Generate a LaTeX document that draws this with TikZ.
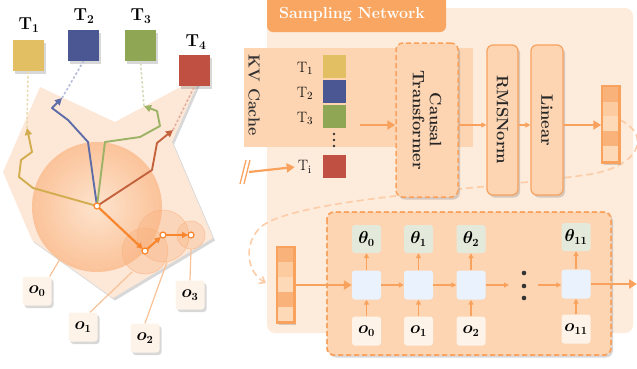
\documentclass[tikz,border=0pt]{standalone}
\usepackage{bm}
\usetikzlibrary{arrows.meta,shadows,calc}
\definecolor{bgc}{HTML}{FDEBDC}
\definecolor{midc}{HTML}{FDD5B3}
\definecolor{orc}{HTML}{F9A25E}
\definecolor{hdc}{HTML}{F8A661}
\definecolor{polyc}{HTML}{FDE8D8}
\definecolor{Ta}{HTML}{E3BF63}
\definecolor{Tb}{HTML}{4B5792}
\definecolor{Tc}{HTML}{8FA655}
\definecolor{Td}{HTML}{C05142}
\definecolor{pa}{HTML}{D2AD4F}
\definecolor{pb}{HTML}{5E6CA8}
\definecolor{pc}{HTML}{9CB264}
\definecolor{pd}{HTML}{C4623E}
\definecolor{arc}{HTML}{F7862E}
\definecolor{cellc}{HTML}{EAF2FD}
\definecolor{thc}{HTML}{E3EADB}
\definecolor{oc}{HTML}{FEF3E8}
\definecolor{linec}{HTML}{F8C196}
\definecolor{sa}{HTML}{F9B27A}
\definecolor{sb}{HTML}{FCCBA0}
\definecolor{sc}{HTML}{FDD9B8}
\definecolor{inC}{HTML}{FDE2CB}
\definecolor{outC}{HTML}{FBC39A}
\definecolor{smc}{HTML}{F9B07C}
\begin{document}
\begin{tikzpicture}[x=1pt,y=-1pt,
  shad/.style={drop shadow={shadow xshift=2pt,shadow yshift=-2.5pt,opacity=0.22,fill=black!70}},
  tbox/.style={minimum width=31pt,minimum height=31pt,inner sep=0pt,shad},
  tlab/.style={font=\fontsize{17}{17}\selectfont},
  obox/.style={rounded corners=3pt,fill=oc,minimum width=29pt,minimum height=29pt,inner sep=0pt,shad,font=\fontsize{16}{16}\selectfont},
  pt/.style={circle,fill=white,draw=arc,line width=1.2pt,inner sep=0pt,minimum size=6pt},
  cpath/.style={line width=1.9pt,line join=round,-{Triangle[length=7pt,width=7pt]}},
  dlink/.style={line width=1.6pt,dash pattern=on 2.5pt off 2pt},
  olink/.style={linec,line width=1.2pt},
  oarr/.style={arc,line width=2.2pt,-{Triangle[length=6pt,width=6pt]}},
  barr/.style={orc,line width=2.2pt,-{Triangle[length=8pt,width=9pt]}},
  sarr/.style={orc,line width=1.4pt,-{Triangle[length=5pt,width=5pt]}},
  rbox/.style={draw=orc,line width=1.2pt,fill=midc,rounded corners=6pt,shad},
  dbox/.style={draw=orc,line width=1.5pt,dash pattern=on 5pt off 3pt,fill=midc,rounded corners=7pt,shad},
  cell/.style={fill=cellc,rounded corners=3pt,minimum width=29pt,minimum height=29pt,inner sep=0pt},
  thbox/.style={fill=thc,rounded corners=3pt,minimum width=29pt,minimum height=28pt,inner sep=0pt,font=\fontsize{16}{16}\selectfont},
  ibox/.style={fill=oc,rounded corners=3pt,minimum width=29pt,minimum height=29pt,inner sep=0pt,font=\fontsize{16}{16}\selectfont},
  rtxt/.style={rotate=-90,font=\bfseries\fontsize{16.5}{17}\selectfont,text=black!85},
  kvt/.style={font=\fontsize{15}{15}\selectfont}
]
\useasboundingbox (0,0) rectangle (637,368);
\clip (0,0) rectangle (637,368);

% ================= LEFT =================
\fill[polyc,shad] (40,87) -- (115,122) -- (201,76) -- (172,142) -- (213,238) -- (113,298) -- (32,240) -- (3,172) -- cycle;
\foreach \i in {0,...,20}{
  \pgfmathsetmacro{\rr}{65-3*\i}
  \pgfmathsetmacro{\pp}{100-5*\i}
  \fill[outC!\pp!inC] (97,207) circle[radius=\rr pt];
}
\filldraw[fill=smc,draw=smc,fill opacity=0.35,draw opacity=0.6,line width=0.6pt] (145,251) circle[radius=23pt];
\filldraw[fill=smc,draw=smc,fill opacity=0.32,draw opacity=0.6,line width=0.6pt] (163,236) circle[radius=26pt];
\filldraw[fill=smc,draw=smc,fill opacity=0.32,draw opacity=0.6,line width=0.6pt] (191,235) circle[radius=14pt];

\coordinate (c0) at (97,206);
\coordinate (c1) at (145,251);
\coordinate (c2) at (163,235);
\coordinate (c3) at (191,235);

% T boxes
\node[tbox,fill=Ta] (T1) at (28,55.5) {};
\node[tbox,fill=Tb] (T2) at (83.5,45.5) {};
\node[tbox,fill=Tc] (T3) at (140.5,45.5) {};
\node[tbox,fill=Td] (T4) at (194.5,70.5) {};
\node[tlab] (T1l) at (29,25) {$\mathbf{T}_{\mathbf{1}}$};
\node[tlab] (T2l) at (84,16) {$\mathbf{T}_{\mathbf{2}}$};
\node[tlab] (T3l) at (141,16) {$\mathbf{T}_{\mathbf{3}}$};
\node[tlab] (T4l) at (196,42) {$\mathbf{T}_{\mathbf{4}}$};

% tips
\coordinate (ta) at (27,128);
\coordinate (tb) at (62,98);
\coordinate (tc) at (144,106);
\coordinate (td) at (173,130);

\draw[dlink,pa!45] (ta) -- (T1.south);
\draw[dlink,pb!45] (tb) -- (T2.south);
\draw[dlink,pc!45] (tc) -- (T3.south);
\draw[dlink,pd!50] (td) -- (T4.south);

\draw[cpath,pa] (c0) -- (33,188) -- (19,177) -- (21,160) -- (32,152) -- (ta);
\draw[cpath,pb] (c0) -- (88,142) -- (68,120) -- (52,108) -- (tb);
\draw[cpath,pc] (c0) -- (105,142) -- (140,137) -- (160,126) -- (157,111) -- (tc);
\draw[cpath,pd] (c0) -- (152,170) -- (157,143) -- (td);

\draw[oarr,shorten >=3pt] (c0) -- (c1);
\draw[oarr,shorten >=3pt,shorten <=2pt] (c1) -- (c2);
\draw[oarr,shorten >=3pt,shorten <=2pt] (c2) -- (c3);

\node[pt] (p0) at (c0) {};
\node[pt] (p1) at (c1) {};
\node[pt] (p2) at (c2) {};
\node[pt] (p3) at (c3) {};

% o boxes
\node[obox] (o0) at (37,291) {$\bm{o_0}$};
\node[obox] (o1) at (83,327) {$\bm{o_1}$};
\node[obox] (o2) at (145,338) {$\bm{o_2}$};
\node[obox] (o3) at (190,295) {$\bm{o_3}$};
\coordinate (e0) at (60,259);
\coordinate (e1) at (132,272);
\coordinate (e2) at (167,262);
\coordinate (e3) at (191,249);
\draw[olink] ($(o0.north east)+(-2,0)$) -- (e0);
\draw[olink] ($(o1.north)+(7,0)$) -- (e1);
\draw[olink] (o2.north) -- (e2);
\draw[olink] (o3.north) -- (e3);

% ================= RIGHT =================
\fill[bgc,rounded corners=8pt] (267,8) rectangle (633,333);
\fill[hdc,rounded corners=6pt] (267,-8) rectangle (446,32);
\node[font=\bfseries\fontsize{16}{16}\selectfont,text=white] (hdr) at (352,15) {Sampling Network};

% KV band
\fill[midc] (244,48) rectangle (473,147);
\node[rotate=-90,font=\bfseries\fontsize{16}{16}\selectfont,text=black!80] (kv) at (254,95) {KV Cache};

\node[kvt] (k1) at (305,68) {T$_1$};
\node[kvt] (k2) at (305,93) {T$_2$};
\node[kvt] (k3) at (305,118) {T$_3$};
\node[kvt] (ki) at (305,167) {T$_\mathrm{i}$};
\fill[black!80] (334,134) circle[radius=1.3pt] (334,140) circle[radius=1.3pt] (334,146) circle[radius=1.3pt];
\fill[Ta] (323,55) rectangle (346,78);
\fill[Tb] (323,80) rectangle (346,103);
\fill[Tc] (323,105) rectangle (346,128);
\fill[Td] (323,155) rectangle (346,178);

% dashed loop curve (behind boxes)
\draw[orc!55,line width=1.6pt,dash pattern=on 7pt off 4pt,-{Straight Barb[length=5pt,width=8pt]}]
  (620,120) .. controls (652,135) and (640,168) .. (585,175)
  .. controls (480,190) and (300,198) .. (262,226)
  .. controls (243,242) and (246,272) .. (266,283);

% input arrows
\coordinate (brk) at (249,172);
\draw[barr] (brk) -- (ki.west);
\draw[orc,line width=1.3pt] (240,184) -- (246,160);
\draw[orc,line width=1.3pt] (244,184) -- (250,160);

\node[dbox,minimum width=62pt,minimum height=154pt] (ct) at (427,120) {};
\node[rtxt,align=center] (ctt) at (ct) {Causal\\Transformer};
\node[rbox,minimum width=31pt,minimum height=150pt] (rms) at (502.5,120) {};
\node[rtxt] (rmst) at (rms) {RMSNorm};
\node[rbox,minimum width=32pt,minimum height=150pt] (lin) at (547,120) {};
\node[rtxt] (lint) at (lin) {Linear};

\coordinate (kvin) at (360,125);
\draw[barr] (kvin) -- (kvin -| ct.west);
\draw[sarr,line width=2pt] (ct.east |- kvin) -- (rms.west |- kvin);
\draw[sarr,line width=2pt] (rms.east |- kvin) -- (lin.west |- kvin);

% output vector
\node[draw=orc,line width=1.5pt,minimum width=17pt,minimum height=76pt,inner sep=0pt,shad,fill=sc] (vec) at (610.5,124) {};
\fill[sa] (603,87) rectangle (618,101.5);
\fill[sb] (603,101.5) rectangle (618,116);
\fill[sc] (603,116) rectangle (618,131);
\fill[sa] (603,131) rectangle (618,146);
\fill[sc] (603,146) rectangle (618,161);
\draw[orc,line width=1.5pt] (vec.north west) rectangle (vec.south east);
\draw[barr] (lin.east |- kvin) -- (vec.west |- kvin);

% bottom panel
\fill[dbox] (327,212) rectangle (611,355);
\draw[draw=orc,line width=1.5pt,dash pattern=on 5pt off 3pt,rounded corners=7pt] (327,212) rectangle (611,355);

% input vector
\node[draw=orc,line width=1.5pt,minimum width=17pt,minimum height=75pt,inner sep=0pt,shad,fill=sc] (vin) at (285.5,284.5) {};
\fill[sa] (278,248) rectangle (293,262);
\fill[sb] (278,262) rectangle (293,277);
\fill[sc] (278,277) rectangle (293,292);
\fill[sa] (278,292) rectangle (293,307);
\fill[sc] (278,307) rectangle (293,321);
\draw[orc,line width=1.5pt] (vin.north west) rectangle (vin.south east);

\node[cell] (g0) at (366.5,285) {};
\node[cell] (g1) at (418.5,285) {};
\node[cell] (g2) at (471,285) {};
\node[cell] (g3) at (576,284) {};
\node[thbox] (h0) at (366.5,239) {$\bm{\theta_0}$};
\node[thbox] (h1) at (418.5,239) {$\bm{\theta_1}$};
\node[thbox] (h2) at (471,239) {$\bm{\theta_2}$};
\node[thbox] (h3) at (576,237) {$\bm{\theta_{11}}$};
\node[ibox] (i0) at (366.5,331) {$\bm{o_0}$};
\node[ibox] (i1) at (418.5,331) {$\bm{o_1}$};
\node[ibox] (i2) at (471,331) {$\bm{o_2}$};
\node[ibox] (i3) at (576,329) {$\bm{o_{11}}$};

\draw[barr] (vin.east |- g0) -- (g0.west);
\foreach \k in {0,1,2,3}{
  \draw[sarr] (i\k.north) -- (g\k.south);
  \draw[sarr] (g\k.north) -- (h\k.south);
}
\draw[sarr] (g0.east) -- (g1.west);
\draw[sarr] (g1.east) -- (g2.west);
\coordinate (dd1) at (509,285);
\coordinate (dd2) at (538,285);
\draw[sarr] (g2.east) -- (dd1);
\draw[sarr] (dd2) -- (g3.west |- dd2);
\fill[black!80] (524,273) circle[radius=2.3pt] (524,286) circle[radius=2.3pt] (524,298) circle[radius=2.3pt];
\coordinate (outp) at (637,284);
\draw[barr] (g3.east) -- (outp);
\end{tikzpicture}
\end{document}
